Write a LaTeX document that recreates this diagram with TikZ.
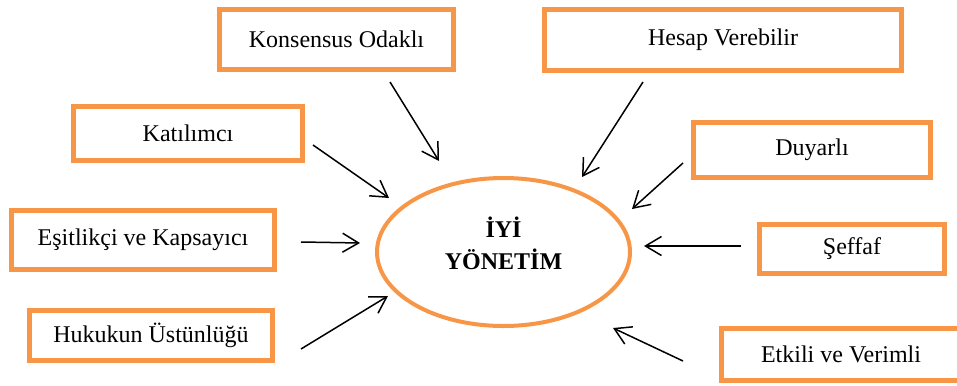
\documentclass[tikz,border=0pt]{standalone}
\usepackage{fontspec}
\setmainfont{Liberation Serif}
\usetikzlibrary{arrows.meta}
\definecolor{boxorange}{HTML}{F79646}
\begin{document}
\begin{tikzpicture}[x=0.5pt,y=-0.5pt,
  itembox/.style={draw=boxorange, line width=2.5pt, fill=white, inner sep=0pt,
    font=\fontsize{12pt}{14pt}\selectfont},
  arr/.style={line width=0.75pt, -{Straight Barb[length=8pt,width=9.5pt,line width=0.75pt]}}]
\useasboundingbox (0,0) rectangle (957,385);
\clip (0,0) rectangle (957,385);
% central ellipse
\draw[boxorange, line width=2pt] (503.5,252) ellipse [x radius=126.5, y radius=74];
\node[font=\bfseries\fontsize{12pt}{16pt}\selectfont, align=center] (center) at (503.5,243) {İYİ\\YÖNETİM};
% boxes
\node[itembox, minimum width=117pt, minimum height=30pt] (kons) at (336.5,39.5) {Konsensus Odaklı};
\node[itembox, minimum width=178.5pt, minimum height=30.5pt] (hesap) at (723,40) {Hesap Verebilir};
\node[itembox, minimum width=114.5pt, minimum height=27pt] (kat) at (188,133.5) {Katılımcı};
\node[itembox, minimum width=118.5pt, minimum height=27.5pt] (duy) at (812,150) {Duyarlı};
\node[itembox, minimum width=131.5pt, minimum height=29.5pt] (esit) at (143,240) {Eşitlikçi ve Kapsayıcı};
\node[itembox, minimum width=92.5pt, minimum height=24.5pt] (seff) at (852,249) {Şeffaf};
\node[itembox, minimum width=121.5pt, minimum height=25pt] (huk) at (151,335.5) {Hukukun Üstünlüğü};
\node[itembox, minimum width=119.5pt, minimum height=26pt] (etk) at (841,354.5) {Etkili ve Verimli};
% arrow end points
\coordinate (a1s) at (390,82);  \coordinate (a1e) at (439,161);
\coordinate (a2s) at (643,82);  \coordinate (a2e) at (582,177);
\coordinate (a3s) at (313,145); \coordinate (a3e) at (389,198);
\coordinate (a4s) at (683,163); \coordinate (a4e) at (632,209);
\coordinate (a5s) at (301,242); \coordinate (a5e) at (360,243);
\coordinate (a6s) at (741,246); \coordinate (a6e) at (644,246);
\coordinate (a7s) at (301,349); \coordinate (a7e) at (388,296);
\coordinate (a8s) at (683,361); \coordinate (a8e) at (613,328);
\draw[arr] (a1s) -- (a1e);
\draw[arr] (a2s) -- (a2e);
\draw[arr] (a3s) -- (a3e);
\draw[arr] (a4s) -- (a4e);
\draw[arr] (a5s) -- (a5e);
\draw[arr] (a6s) -- (a6e);
\draw[arr] (a7s) -- (a7e);
\draw[arr] (a8s) -- (a8e);
\end{tikzpicture}
\end{document}
